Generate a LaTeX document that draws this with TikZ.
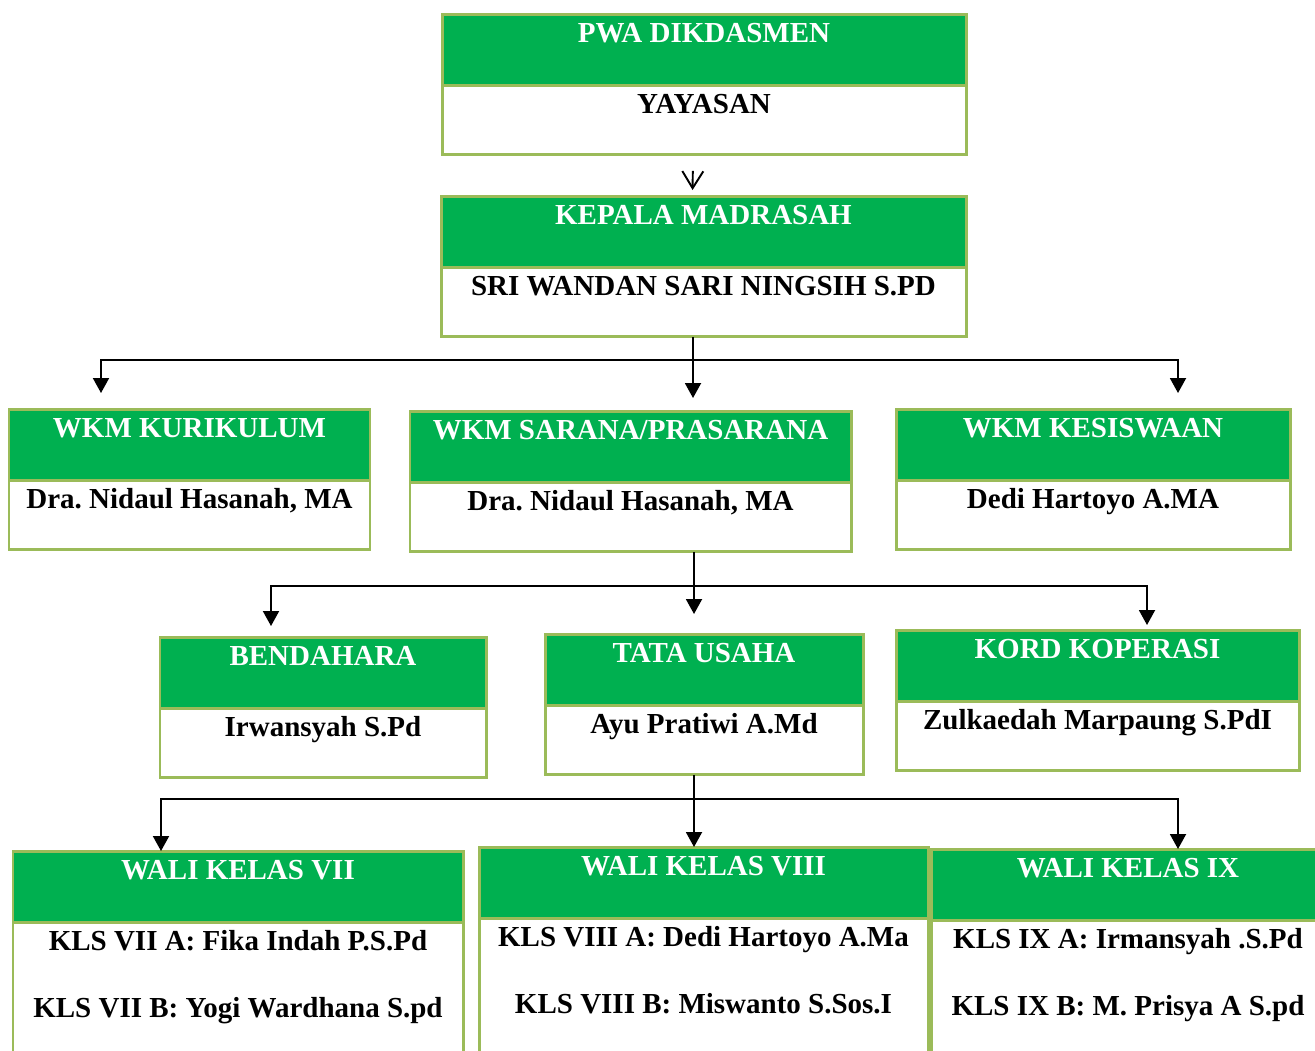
\documentclass[tikz,border=0pt]{standalone}
\usepackage{fontspec}
\setmainfont{Liberation Serif}
\frenchspacing
\usetikzlibrary{arrows.meta,positioning,calc}
\definecolor{orggreen}{HTML}{00B050}
\definecolor{orgline}{HTML}{9BBB59}

\begin{document}
\begin{tikzpicture}[
    head/.style={rectangle, draw=orgline, fill=orggreen, line width=1.7pt, outer sep=0pt,
                 font=\bfseries\fontsize{16.5}{20}\selectfont, text=white,
                 inner ysep=4pt, text height=12.3pt, text depth=20.1pt},
    body/.style={rectangle, draw=orgline, fill=white, line width=1.7pt, outer sep=0pt,
                 font=\bfseries\fontsize{16.5}{20}\selectfont,
                 inner ysep=4pt, text height=12.3pt, text depth=19.5pt},
    kelas/.style={body, inner xsep=0pt, align=flush center, text depth=70pt},
    arr/.style={-{Triangle[length=0.3cm, width=0.32cm]}, line width=1.1pt},
    vtip/.style={-{Straight Barb[length=0.34cm, width=0.42cm]}, line width=1.1pt}
]
\useasboundingbox (0,0) rectangle (26.3,-21);
\clip (0,0) rectangle (26.3,-21);

\node[head, minimum width=10.48cm] (pwa) at (14.08,-0.99) {PWA DIKDASMEN};
\node[body, minimum width=10.48cm, below=0pt of pwa] (yys) {YAYASAN};

\node[head, minimum width=10.5cm] (kep) at (14.07,-4.63) {KEPALA MADRASAH};
\node[body, minimum width=10.5cm, below=0pt of kep] (kepn) {SRI WANDAN SARI NINGSIH S.PD};

\node[head, minimum width=7.22cm] (kur) at (3.79,-8.89) {WKM KURIKULUM};
\node[body, minimum width=7.22cm, below=0pt of kur] (kurn) {Dra. Nidaul Hasanah, MA};
\node[head, minimum width=8.82cm] (sar) at (12.61,-8.93) {WKM SARANA/PRASARANA};
\node[body, minimum width=8.82cm, below=0pt of sar] (sarn) {Dra. Nidaul Hasanah, MA};
\node[head, minimum width=7.88cm] (kes) at (21.86,-8.89) {WKM KESISWAAN};
\node[body, minimum width=7.88cm, below=0pt of kes] (kesn) {Dedi Hartoyo A.MA};

\node[head, minimum width=6.52cm] (ben) at (6.46,-13.45) {BENDAHARA};
\node[body, minimum width=6.52cm, below=0pt of ben] (benn) {Irwansyah S.Pd};
\node[head, minimum width=6.36cm] (tu) at (14.08,-13.39) {TATA USAHA};
\node[body, minimum width=6.36cm, below=0pt of tu] (tun) {Ayu Pratiwi A.Md};
\node[head, minimum width=8.06cm] (kop) at (21.95,-13.31) {KORD KOPERASI};
\node[body, minimum width=8.06cm, below=0pt of kop] (kopn) {Zulkaedah Marpaung S.PdI};

\node[head, minimum width=9.0cm] (wk7) at (4.76,-17.73) {WALI KELAS VII};
\node[kelas, minimum width=9.0cm, text width=9.0cm, below=0pt of wk7] (wk7n)
    {KLS VII A: Fika Indah P.S.Pd\\[18pt] KLS VII B: Yogi Wardhana S.pd};
\node[head, minimum width=8.98cm] (wk8) at (14.07,-17.65) {WALI KELAS VIII};
\node[kelas, minimum width=8.98cm, text width=8.98cm, below=0pt of wk8] (wk8n)
    {KLS VIII A: Dedi Hartoyo A.Ma\\[18pt] KLS VIII B: Miswanto S.Sos.I};
\node[head, minimum width=7.88cm] (wk9) at (22.56,-17.69) {WALI KELAS IX};
\node[kelas, minimum width=7.88cm, text width=7.88cm, below=0pt of wk9] (wk9n)
    {KLS IX A: Irmansyah .S.Pd\\[18pt] KLS IX B: M. Prisya A S.pd};

\draw[vtip, shorten <=0.32cm, shorten >=0.12cm] ([xshift=-0.22cm]yys.south) -- ([xshift=-0.22cm]kep.north);

\coordinate (j1) at ([xshift=-0.21cm]kepn.south);
\coordinate (b1) at ($(j1)+(0,-0.47)$);
\draw[arr, shorten >=0.26cm] (j1) -- (j1 |- sar.north);
\draw[arr, shorten >=0.32cm] (b1) -| ([xshift=1.84cm]kur.north west);
\draw[arr, shorten >=0.32cm] (b1) -| ([xshift=-2.24cm]kes.north east);

\coordinate (j2) at ([xshift=1.27cm]sarn.south);
\coordinate (b2) at ($(j2)+(0,-0.68)$);
\draw[arr, shorten >=0.4cm] (j2) -- (j2 |- tu.north);
\draw[arr, shorten >=0.22cm] (b2) -| ([xshift=2.22cm]ben.north west);
\draw[arr, shorten >=0.1cm] (b2) -| ([xshift=5.02cm]kop.north west);

\coordinate (j3) at ([xshift=-0.2cm]tun.south);
\coordinate (b3) at ($(j3)+(0,-0.48)$);
\draw[arr] (j3) -- (j3 |- wk8.north);
\draw[arr] (b3) -| ([xshift=2.96cm]wk7.north west);
\draw[arr] (b3) -| ([xshift=4.94cm]wk9.north west);
\end{tikzpicture}
\end{document}
